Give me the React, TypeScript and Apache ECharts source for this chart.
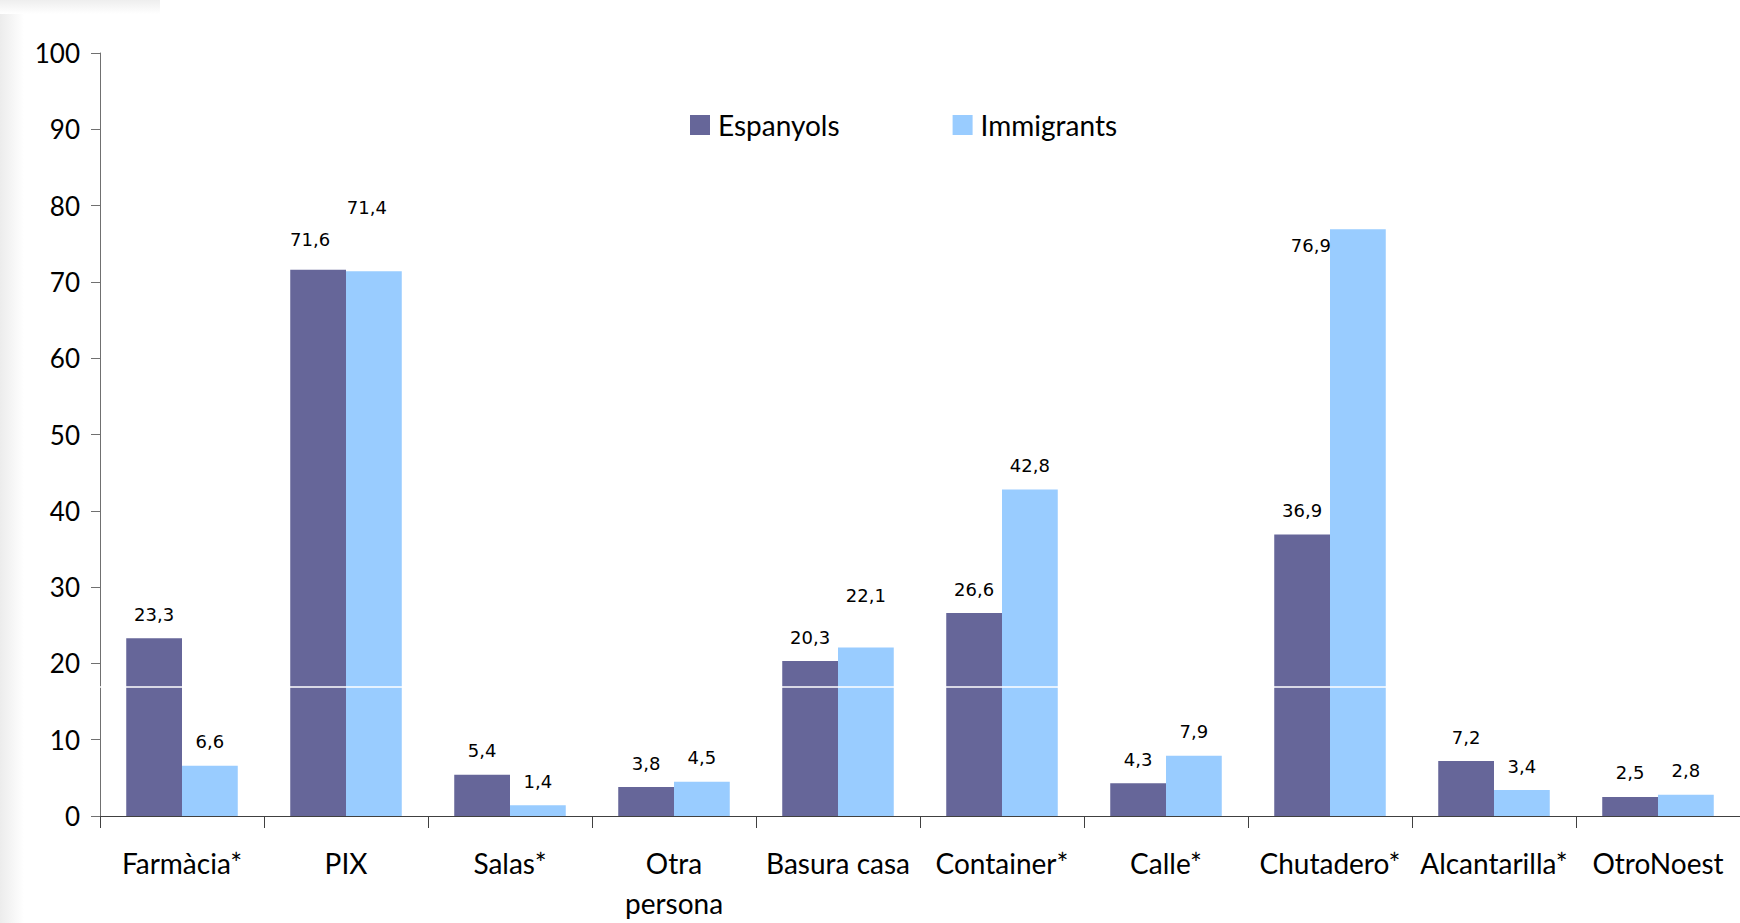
import React, { useEffect, useRef } from "react";
import * as echarts from "echarts";

const categories = [
  "Farmàcia*",
  "PIX",
  "Salas*",
  "Otra persona",
  "Basura casa",
  "Container*",
  "Calle*",
  "Chutadero*",
  "Alcantarilla*",
  "OtroNoest",
];
const espanyols = [23.3, 71.6, 5.4, 3.8, 20.3, 26.6, 4.3, 36.9, 7.2, 2.5];
const immigrants = [6.6, 71.4, 1.4, 4.5, 22.1, 42.8, 7.9, 76.9, 3.4, 2.8];
const seriesNames = ["Espanyols", "Immigrants"];
const yTicks = { min: 0, max: 100, interval: 10 };

// label nudges (pixels) for labels Excel placed off their default spot
const espOffsets: Record<number, [number, number]> = { 1: [-8, -6] };
const immOffsets: Record<number, [number, number]> = {
  1: [-7, -40],
  4: [0, -28],
  7: [-47, 40],
};

const fmt = (v: number) => v.toFixed(1).replace(".", ",");

export default function App() {
  const ref = useRef<HTMLDivElement>(null);
  useEffect(() => {
    if (!ref.current) return;
    const chart = echarts.init(ref.current, undefined, { renderer: "svg" });
    const labelBase = {
      show: true,
      position: "top",
      distance: 15,
      fontFamily: "DejaVu Sans",
      fontSize: 18,
      color: "#000",
      formatter: (p: any) => fmt(p.value),
    };
    const mk = (vals: number[], offs: Record<number, [number, number]>) =>
      vals.map((v, i) =>
        offs[i] ? { value: v, label: { offset: offs[i] } } : { value: v }
      );
    chart.setOption({
      animation: false,
      backgroundColor: "#fff",
      graphic: [
        {
          type: "rect",
          shape: { x: 0, y: 0, width: 24, height: 923 },
          style: {
            fill: new echarts.graphic.LinearGradient(0, 0, 1, 0, [
              { offset: 0, color: "#ececec" },
              { offset: 1, color: "#ffffff" },
            ]),
          },
          silent: true,
          z: -10,
        },
        {
          type: "rect",
          shape: { x: 0, y: 0, width: 160, height: 14 },
          style: {
            fill: new echarts.graphic.LinearGradient(0, 0, 0, 1, [
              { offset: 0, color: "#eeeeee" },
              { offset: 1, color: "#ffffff" },
            ]),
          },
          silent: true,
          z: -10,
        },
      ],
      grid: { left: 100, right: 0, top: 53, bottom: 90, containLabel: false },
      legend: {
        data: seriesNames,
        left: 685,
        top: 106,
        icon: "rect",
        itemWidth: 20,
        itemHeight: 20,
        itemGap: 113,
        textStyle: {
          fontFamily: "Lato",
          fontSize: 28,
          color: "#000",
          padding: [0, 0, 0, 3],
        },
      },
      xAxis: {
        type: "category",
        data: categories,
        axisLine: { lineStyle: { color: "#404040", width: 1 } },
        axisTick: { show: true, length: 12, lineStyle: { color: "#404040" } },
        axisLabel: {
          interval: 0,
          margin: 27,
          fontFamily: "Lato",
          fontSize: 28,
          color: "#000",
          lineHeight: 40,
          formatter: (v: string) => (v === "Otra persona" ? "Otra\npersona" : v),
        },
      },
      yAxis: {
        type: "value",
        min: yTicks.min,
        max: yTicks.max,
        interval: yTicks.interval,
        splitLine: { show: false },
        axisLine: { show: true, lineStyle: { color: "#707070" } },
        axisTick: { show: true, length: 9, lineStyle: { color: "#707070" } },
        axisLabel: {
          margin: 20,
          fontFamily: "Lato",
          fontSize: 26,
          color: "#000",
        },
      },
      series: [
        {
          name: seriesNames[0],
          type: "bar",
          data: mk(espanyols, espOffsets),
          itemStyle: { color: "#666699" },
          barGap: "0%",
          barCategoryGap: "32%",
          label: labelBase,
        },
        {
          name: seriesNames[1],
          type: "bar",
          z: 3,
          data: mk(immigrants, immOffsets),
          itemStyle: { color: "#99CCFF" },
          barGap: "0%",
          barCategoryGap: "32%",
          label: labelBase,
          markLine: {
            silent: true,
            symbol: "none",
            label: { show: false },
            lineStyle: { color: "#ffffff", width: 1.5, type: "solid" },
            data: [{ yAxis: 17 }],
          },
        },
      ],
    });
    return () => chart.dispose();
  }, []);
  return (
    <div
      ref={ref}
      style={{ position: "absolute", left: 0, top: 0, width: 1740, height: 923 }}
    />
  );
}
